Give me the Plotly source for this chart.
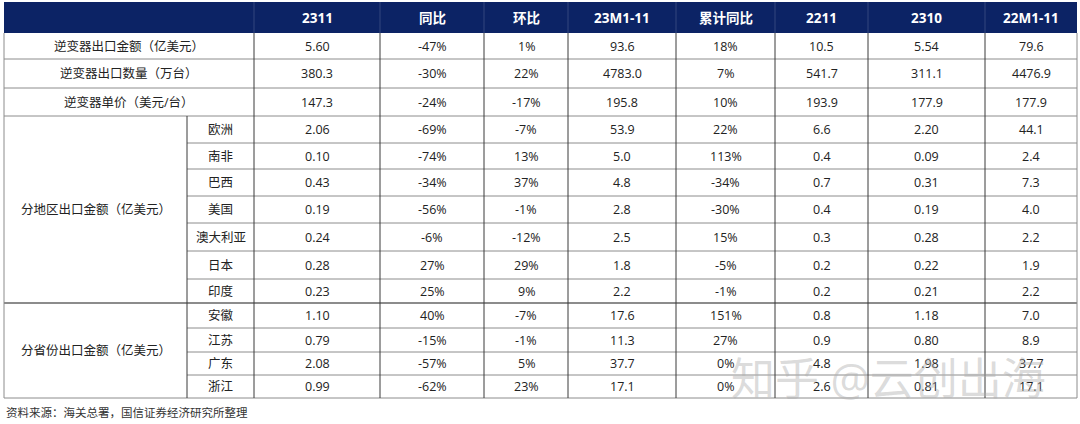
import plotly.graph_objects as go

# header + row labels
columns = ["2311", "同比", "环比", "23M1-11", "累计同比", "2211", "2310", "22M1-11"]
top_rows = ["逆变器出口金额（亿美元）", "逆变器出口数量（万台）", "逆变器单价（美元/台）"]
region_group = "分地区出口金额（亿美元）"
regions = ["欧洲", "南非", "巴西", "美国", "澳大利亚", "日本", "印度"]
province_group = "分省份出口金额（亿美元）"
provinces = ["安徽", "江苏", "广东", "浙江"]

# values, one list per column (3 top rows, 7 regions, 4 provinces)
v_2311 = [5.60, 380.3, 147.3, 2.06, 0.10, 0.43, 0.19, 0.24, 0.28, 0.23, 1.10, 0.79, 2.08, 0.99]
yoy = [-47, -30, -24, -69, -74, -34, -56, -6, 27, 25, 40, -15, -57, -62]
mom = [1, 22, -17, -7, 13, 37, -1, -12, 29, 9, -7, -1, 5, 23]
v_23m = [93.6, 4783.0, 195.8, 53.9, 5.0, 4.8, 2.8, 2.5, 1.8, 2.2, 17.6, 11.3, 37.7, 17.1]
cum_yoy = [18, 7, 10, 22, 113, -34, -30, 15, -5, -1, 151, 27, 0, 0]
v_2211 = [10.5, 541.7, 193.9, 6.6, 0.4, 0.7, 0.4, 0.3, 0.2, 0.2, 0.8, 0.9, 4.8, 2.6]
v_2310 = [5.54, 311.1, 177.9, 2.20, 0.09, 0.31, 0.19, 0.28, 0.22, 0.21, 1.18, 0.80, 1.98, 0.81]
v_22m = [79.6, 4476.9, 177.9, 44.1, 2.4, 7.3, 4.0, 2.2, 1.9, 2.2, 7.0, 8.9, 37.7, 17.1]

source = "资料来源：海关总署，国信证券经济研究所整理"
watermark = "知乎 @云创出海"

# layout geometry (pixel-like axis units)
col_x = [4, 187, 254, 380, 484, 568, 676, 775, 868, 985, 1077]
header_top = 2
row_y = [33, 59, 88, 116, 143, 169, 196, 223, 251, 279, 303, 328, 352, 375, 398]

NAVY = "#0c2365"
VLINE = "#3a3a3a"
HLINE = "#8c8c8c"
FONT = "Open Sans, Noto Sans CJK SC"


def fmt(col, i, v):
    if col in (1, 2, 4):
        return f"{v}%"
    if col in (0, 6) and i not in (1, 2):
        return f"{v:.2f}"
    return f"{v:.1f}"


fig = go.Figure()
shapes = []
ann = []

# header band
shapes.append(dict(type="rect", x0=col_x[0], x1=col_x[-1], y0=header_top, y1=row_y[0],
                   fillcolor=NAVY, line=dict(width=0), layer="below"))
for x in col_x[2:-1]:
    shapes.append(dict(type="line", x0=x, x1=x, y0=header_top, y1=row_y[0],
                       line=dict(color="#33477f", width=1)))
for j, c in enumerate(columns):
    ann.append(dict(x=(col_x[j + 2] + col_x[j + 3]) / 2, y=(header_top + row_y[0]) / 2 + 0.5,
                    text=f"<b>{c}</b>", font=dict(color="white", size=13.5, family=FONT)))

# horizontal lines
for i, y in enumerate(row_y[1:], start=1):
    full = i <= 3 or y in (row_y[10], row_y[-1])
    shapes.append(dict(type="line", x0=col_x[0] if full else col_x[1], x1=col_x[-1], y0=y, y1=y,
                       line=dict(color=HLINE, width=2 if y == row_y[10] else 1)))

# vertical lines
shapes.append(dict(type="line", x0=col_x[0], x1=col_x[0], y0=row_y[0], y1=row_y[-1],
                   line=dict(color=HLINE, width=1)))
shapes.append(dict(type="line", x0=col_x[1], x1=col_x[1], y0=row_y[3], y1=row_y[-1],
                   line=dict(color=VLINE, width=1)))
for x in col_x[2:]:
    shapes.append(dict(type="line", x0=x, x1=x, y0=row_y[0], y1=row_y[-1],
                       line=dict(color=VLINE if x != col_x[-1] else HLINE, width=1)))

body_font = dict(color="#222222", size=12.5, family=FONT)

# row labels
for i, t in enumerate(top_rows):
    ann.append(dict(x=(col_x[0] + col_x[2]) / 2, y=(row_y[i] + row_y[i + 1]) / 2, text=t, font=body_font))
ann.append(dict(x=(col_x[0] + col_x[1]) / 2, y=(row_y[3] + row_y[10]) / 2, text=region_group, font=body_font))
ann.append(dict(x=(col_x[0] + col_x[1]) / 2, y=(row_y[10] + row_y[14]) / 2, text=province_group, font=body_font))
for i, t in enumerate(regions + provinces):
    ann.append(dict(x=(col_x[1] + col_x[2]) / 2, y=(row_y[i + 3] + row_y[i + 4]) / 2, text=t, font=body_font))

# values
data_cols = [v_2311, yoy, mom, v_23m, cum_yoy, v_2211, v_2310, v_22m]
for j, vals in enumerate(data_cols):
    for i, v in enumerate(vals):
        ann.append(dict(x=(col_x[j + 2] + col_x[j + 3]) / 2, y=(row_y[i] + row_y[i + 1]) / 2,
                        text=fmt(j, i, v), font=body_font))

ann.append(dict(x=4, y=412, text=source, xanchor="left",
                font=dict(color="#333333", size=11.5, family=FONT)))
ann.append(dict(x=888, y=378, text=watermark,
                font=dict(color="rgba(175,175,175,0.45)", size=44, family=FONT)))

for a in ann:
    a.update(xref="x", yref="y", showarrow=False)

fig.update_layout(
    width=1080, height=424,
    margin=dict(l=0, r=0, t=0, b=0),
    paper_bgcolor="white", plot_bgcolor="white",
    shapes=shapes, annotations=ann, showlegend=False,
    xaxis=dict(range=[0, 1080], visible=False, fixedrange=True),
    yaxis=dict(range=[424, 0], visible=False, fixedrange=True),
)

# drop the default page margin so the table sits at the window's corner
fig.write_html("out.html", config={"displayModeBar": False},
               post_script="document.body.style.margin='0';")
